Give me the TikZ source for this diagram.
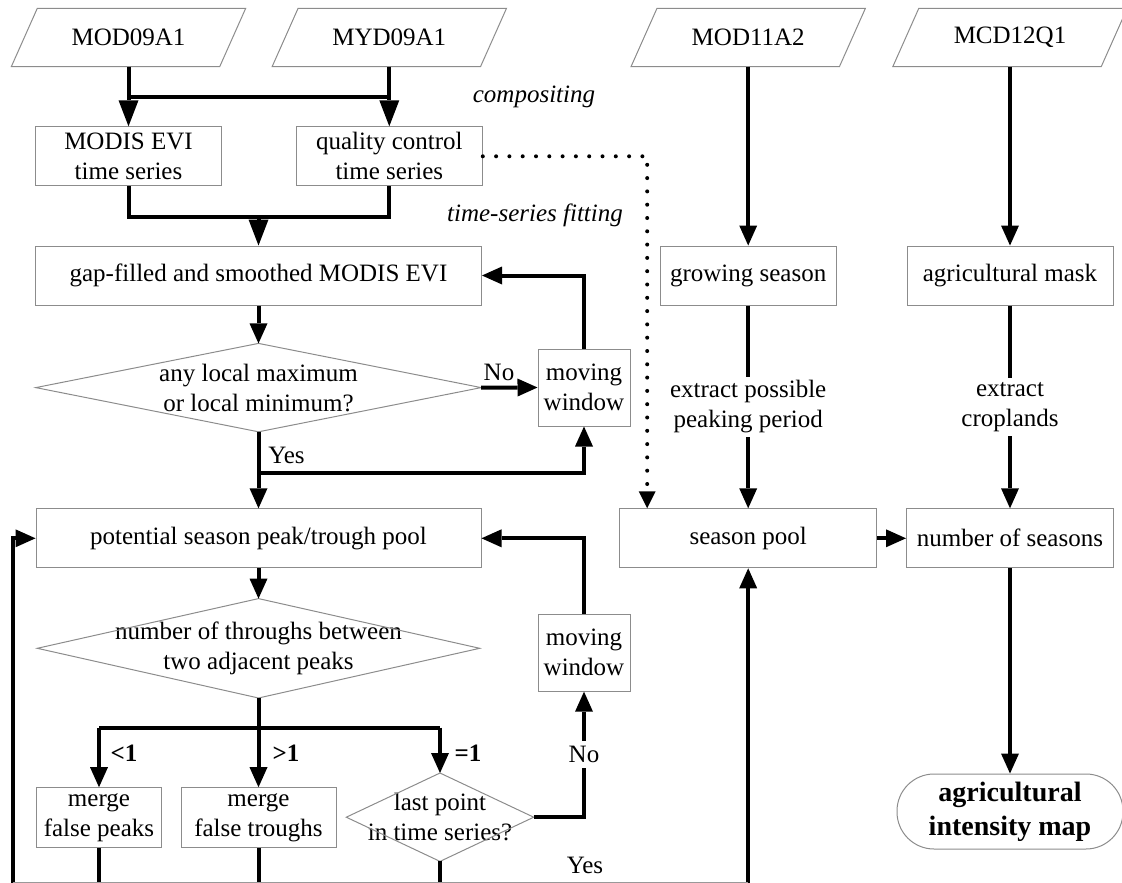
\documentclass[tikz,border=0pt]{standalone}
\usepackage{fontspec}
\setmainfont{Liberation Serif}
\usetikzlibrary{arrows.meta,calc}
\begin{document}
\begin{tikzpicture}[x=1pt,y=-1pt,
  every node/.style={font=\fontsize{25}{30}\selectfont, inner sep=0pt, align=center},
  box/.style={draw=black!45, line width=1pt, fill=white, minimum height=59pt},
  para/.style={draw=black!45, line width=1pt},
  dia/.style={draw=black!45, line width=1pt},
  ln/.style={line width=4pt},
  arr/.style={ln, -{Triangle[length=20pt,width=18pt,line width=0pt]}},
  bigarr/.style={ln, -{Triangle[length=26pt,width=20pt,line width=0pt]}},
  dotarr/.style={line width=4pt, line cap=round, dash pattern=on 0pt off 13.3pt, -{Triangle[length=17pt,width=17pt,line width=0pt]}},
  lbl/.style={fill=white, inner sep=5pt},
  blbl/.style={font=\fontsize{25}{30}\selectfont\bfseries},
  ]
\useasboundingbox (0,0) rectangle (1122,883);

% inputs (parallelograms)
\node[minimum width=208pt, minimum height=58pt] (in1) at (128.5,37.5) {MOD09A1};
\node[minimum width=208pt, minimum height=58pt] (in2) at (389.3,37.5) {MYD09A1};
\node[minimum width=208pt, minimum height=58pt] (in3) at (748.2,37.5) {MOD11A2};
\node[minimum width=208pt, minimum height=58pt] (in4) at (1010,37.5) {MCD12Q1};
\foreach \n in {in1,in2,in3,in4}{
  \draw[para] ($(\n.north west)+(13,0)$) -- ($(\n.north east)+(13,0)$) -- ($(\n.south east)+(-13,0)$) -- ($(\n.south west)+(-13,0)$) -- cycle;
}

% boxes
\node[box, minimum width=186pt] (mevi) at (128.5,156.3) {MODIS EVI\\time series};
\node[box, minimum width=186pt] (qc) at (389.3,156.3) {quality control\\time series};
\node[box, minimum width=446pt] (gap) at (258.5,275.5) {gap-filled and smoothed MODIS EVI};
\node[box, minimum width=176pt] (grow) at (748.2,275.5) {growing season};
\node[box, minimum width=206pt] (mask) at (1010,275.5) {agricultural mask};
\node[box, minimum width=92pt, minimum height=77pt] (mw1) at (584,387.5) {moving\\window};
\node[box, minimum width=445pt] (pot) at (258.5,538.3) {potential season peak/trough pool};
\node[box, minimum width=257pt] (pool) at (748.2,538.3) {season pool};
\node[box, minimum width=207pt] (nos) at (1010,538.3) {number of seasons};
\node[box, minimum width=92pt, minimum height=77pt] (mw2) at (584,652.7) {moving\\window};
\node[box, minimum width=125pt, minimum height=59.6pt] (mfp) at (99,817.5) {merge\\false peaks};
\node[box, minimum width=155pt, minimum height=59.6pt] (mft) at (258.5,817.5) {merge\\false troughs};
\node[draw=black!45, line width=1pt, rounded corners=37pt, minimum width=226pt, minimum height=75pt,
      font=\fontsize{28}{34}\selectfont\bfseries] (term) at (1010,811.5) {agricultural\\intensity map};

% diamonds
\node[minimum width=445pt, minimum height=88pt] (d1) at (258.5,387.6) {any local maximum\\or local minimum?};
\node[minimum width=442pt, minimum height=99pt] (d2) at (258.5,648.3) {number of throughs between\\two adjacent peaks};
\node[minimum width=187pt, minimum height=88pt] (d3) at (440,817.2) {last point\\in time series?};
\foreach \n in {d1,d2,d3}{
  \draw[dia] (\n.north) -- (\n.east) -- (\n.south) -- (\n.west) -- cycle;
}

% italic labels
\node[font=\fontsize{25}{30}\selectfont\itshape] at (534,97) {compositing};
\node[font=\fontsize{25}{30}\selectfont\itshape] at (535,215) {time-series fitting};

% compositing
\coordinate (j1) at (128.5,96.7);
\coordinate (j2) at (389.3,96.7);
\draw[ln] (j1) -- (j2);
\draw[bigarr] (in1.south) -- (mevi.north);
\draw[bigarr] (in2.south) -- (qc.north);

% fitting
\coordinate (m) at (258.5,216.7);
\draw[ln] (mevi.south) |- (m) -| (qc.south);
\draw[bigarr] (m) -- (gap.north);

% first loop
\draw[arr] (gap.south) -- (d1.north);
\draw[arr] (d1.east) -- (mw1.west);
\node at (499,372) {No};
\draw[arr] (mw1.north) |- (gap.east);
\draw[arr] (d1.south) -- (pot.north);
\node at (286.5,455) {Yes};
\coordinate (y1) at (258.5,472.7);
\draw[arr] (y1) -| (mw1.south);

% second loop
\draw[arr] (pot.south) -- (d2.north);
\draw[arr] (mw2.north) |- (pot.east);
\coordinate (b) at (258.5,727.7);
\draw[ln] (d2.south) -- (b);
\coordinate (b1) at (99,727.7);
\coordinate (b3) at (440,727.7);
\draw[ln] (b1) -- (b3);
\draw[arr] (b1) -- (mfp.north);
\draw[arr] (b) -- (mft.north);
\draw[arr] (b3) -- (d3.north);
\node[blbl] at (124,753) {<1};
\node[blbl] at (286,753) {>1};
\node[blbl] at (468,753) {=1};
\draw[arr] (d3.east) -| node[pos=0.75, lbl] {No} (mw2.south);

% bottom returns
\coordinate (lc) at (12.5,886);
\coordinate (rc) at (748.2,886);
\draw[arr] (mfp.south) |- (lc) |- (pot.west);
\draw[ln] (mft.south) -- (mft.south |- lc);
\draw[arr] (d3.south) |- (rc) -- (pool.south);
\draw[black!40, line width=0.8pt] (12.5,882.3) -- (748.2,882.3);
\node at (585,865) {Yes};

% quality control to season pool (dotted)
\coordinate (dp) at ($(pool.north west)+(28,0)$);
\draw[dotarr] (qc.east) -| (dp);

% right columns
\draw[arr] (in3.south) -- (grow.north);
\draw[arr] (grow.south) -- node[lbl, inner sep=4pt] {extract possible\\peaking period} (pool.north);
\draw[arr] (in4.south) -- (mask.north);
\draw[arr] (mask.south) -- node[lbl, inner sep=4pt] {extract\\croplands} (nos.north);
\draw[arr] (pool.east) -- (nos.west);
\draw[arr] (nos.south) -- (term.north);
\end{tikzpicture}
\end{document}
